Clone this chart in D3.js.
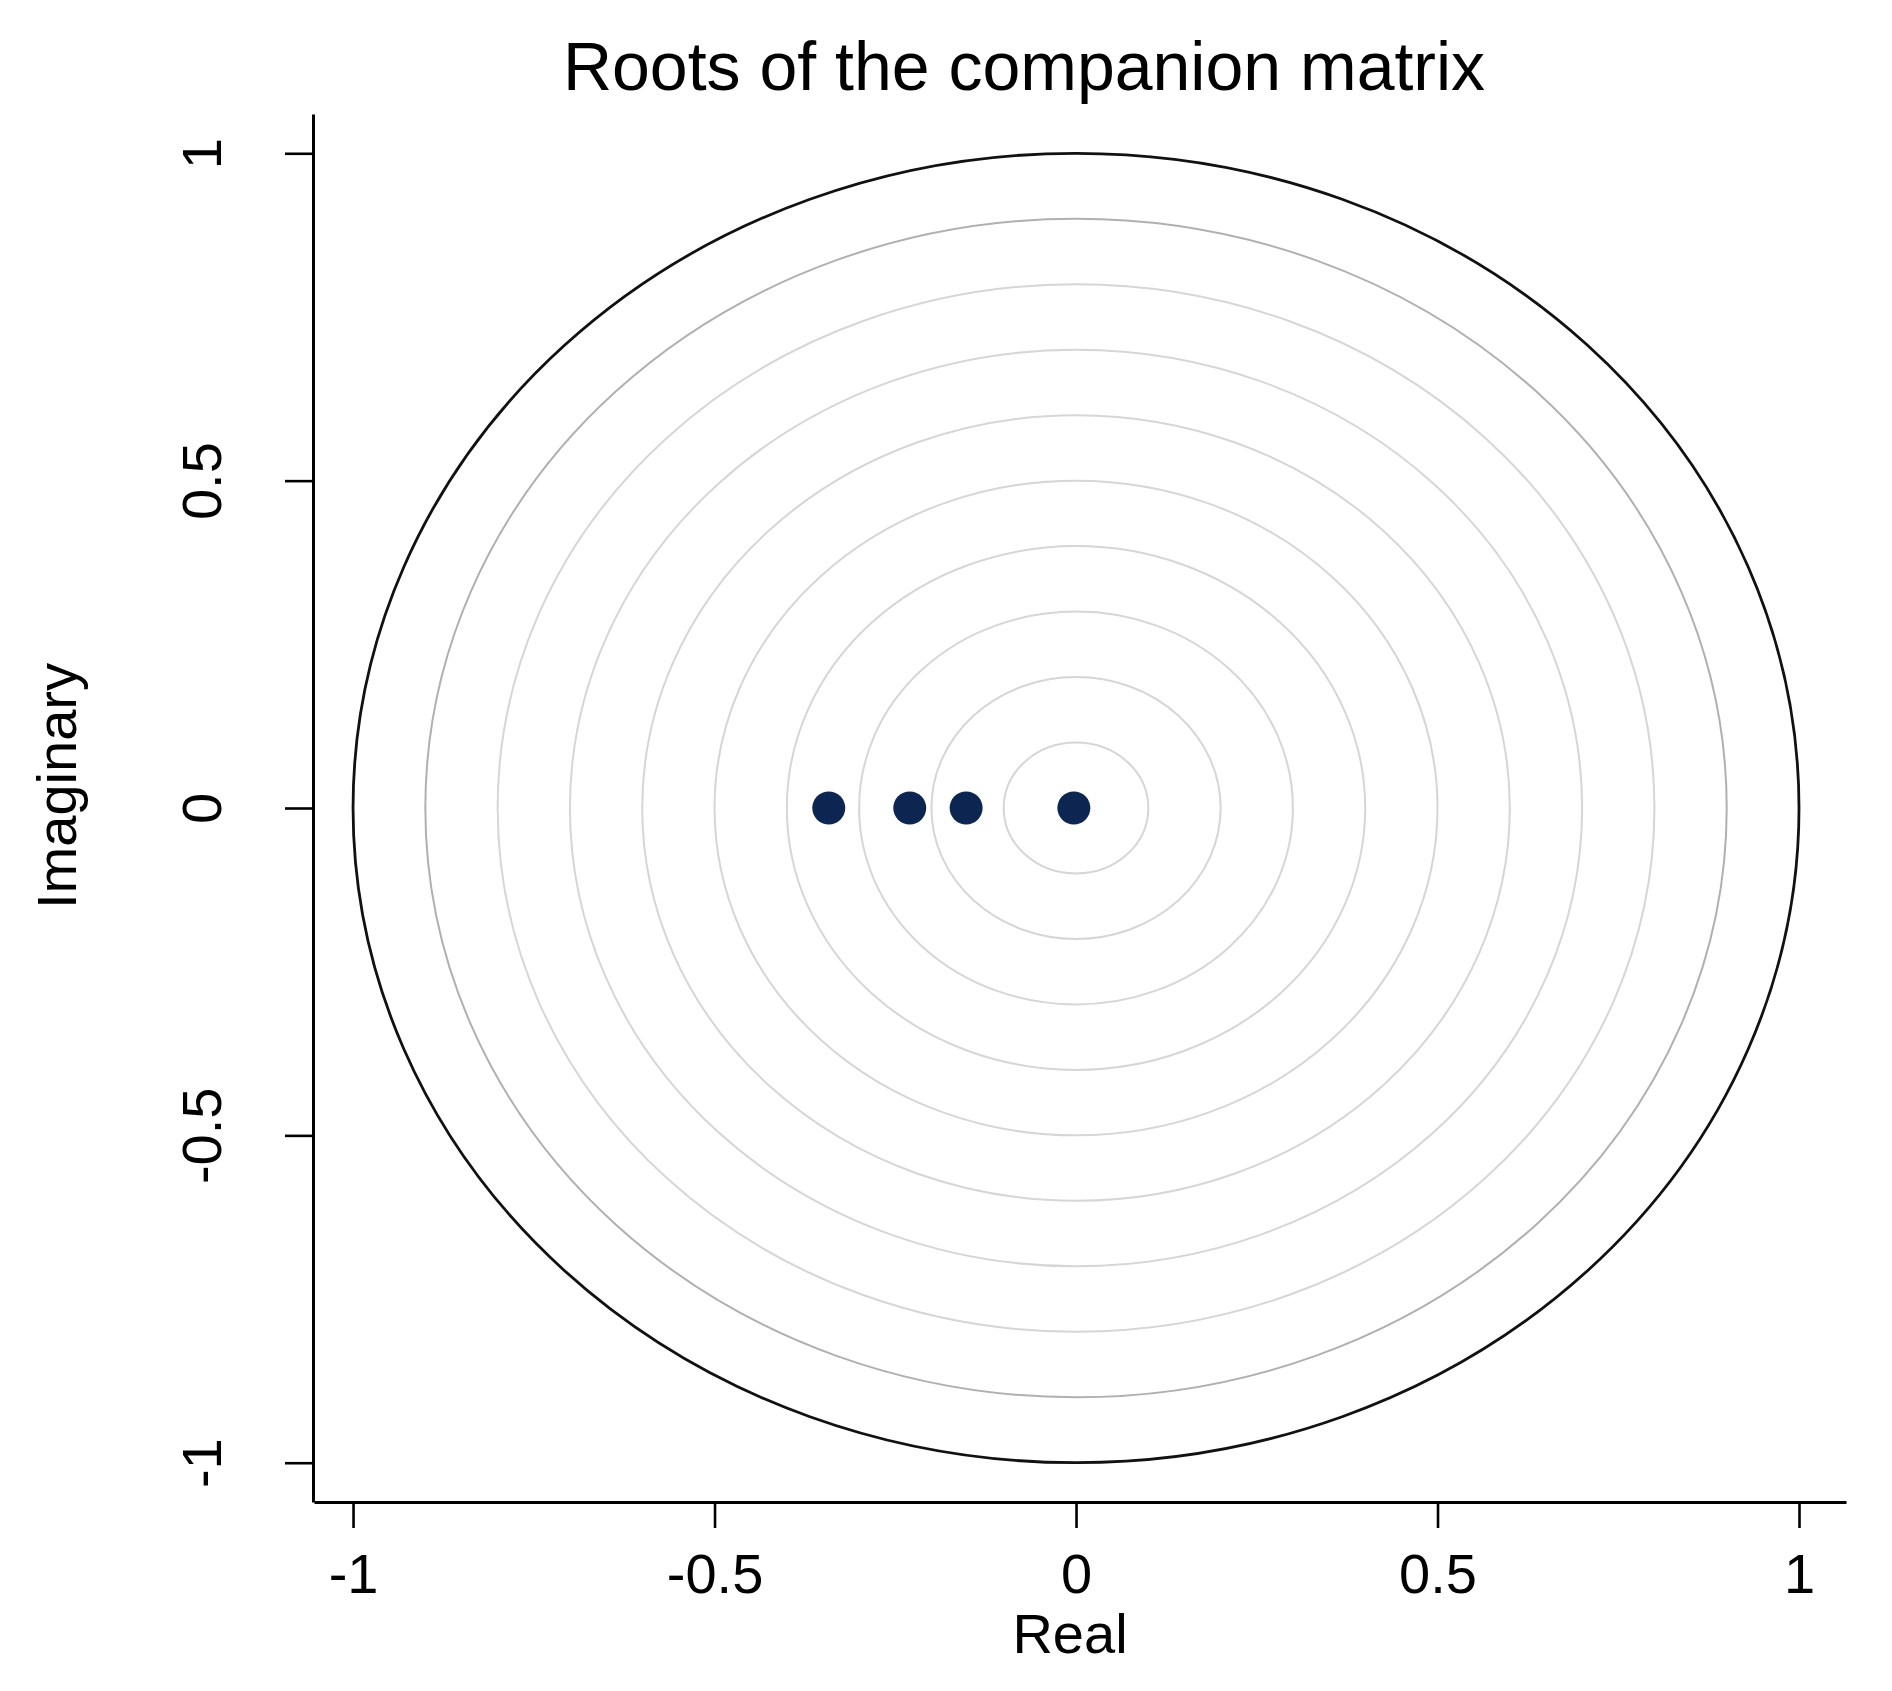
<!DOCTYPE html>
<html>
<head>
<meta charset="utf-8">
<script src="https://cdn.jsdelivr.net/npm/d3@7"></script>
<style>
  body { margin: 0; background: #fff; }
  text { font-family: "Liberation Sans", Arial, sans-serif; fill: #000; }
</style>
</head>
<body>
<script>
// roots of the companion matrix (real, imaginary)
var rootsReal = [-0.342, -0.230, -0.152, -0.003];
var rootsImag = [0, 0, 0, 0];

// reference circles
var gridRadii = [0.1, 0.2, 0.3, 0.4, 0.5, 0.6, 0.7, 0.8, 0.9];
var unitRadius = [1];

var xTicks = [-1, -0.5, 0, 0.5, 1];
var yTicks = [-1, -0.5, 0, 0.5, 1];

function drawRoots() {
  var width = 1892;
  var height = 1691;

  var svg = d3.select("body")
    .append("svg")
    .attr("width", width)
    .attr("height", height);

  var x = d3.scaleLinear().domain([-1.054, 1.065]).range([314, 1846]);
  var y = d3.scaleLinear().domain([-1.06, 1.06]).range([1502, 114]);

  // plain hyphen for negatives, like the original
  var fmt = function (d) { return String(d); };

  // concentric circles
  svg.append("g")
    .selectAll("ellipse")
    .data(gridRadii)
    .enter()
    .append("ellipse")
      .attr("cx", x(0))
      .attr("cy", y(0))
      .attr("rx", function (r) { return x(r) - x(0); })
      .attr("ry", function (r) { return y(0) - y(r); })
      .attr("fill", "none")
      .attr("stroke", function (r) { return r > 0.85 ? "#b0b0b0" : "#d6d6d6"; })
      .attr("stroke-width", 2);

  svg.append("g")
    .selectAll("ellipse")
    .data(unitRadius)
    .enter()
    .append("ellipse")
      .attr("cx", x(0))
      .attr("cy", y(0))
      .attr("rx", function (r) { return x(r) - x(0); })
      .attr("ry", function (r) { return y(0) - y(r); })
      .attr("fill", "none")
      .attr("stroke", "#111")
      .attr("stroke-width", 2.8);

  // axes
  var gx = svg.append("g")
    .attr("transform", "translate(0,1502)")
    .call(d3.axisBottom(x).tickValues(xTicks).tickSize(26).tickSizeOuter(0)
      .tickFormat(fmt));
  gx.select(".domain").attr("stroke-width", 3.2);
  gx.selectAll(".tick line").attr("stroke-width", 2.6);
  gx.selectAll(".tick text")
    .attr("y", 91)
    .attr("dy", 0)
    .style("font-size", "56px")
    .style("font-family", "'Liberation Sans', Arial, sans-serif");

  var gy = svg.append("g")
    .attr("transform", "translate(313,0)")
    .call(d3.axisLeft(y).tickValues(yTicks).tickSize(28).tickSizeOuter(0)
      .tickFormat(fmt));
  gy.select(".domain").attr("stroke-width", 3);
  gy.selectAll(".tick line").attr("stroke-width", 2.6);
  gy.selectAll(".tick text")
    .attr("transform", "rotate(-90)")
    .attr("x", 0)
    .attr("y", -92)
    .attr("dy", 0)
    .attr("text-anchor", "middle")
    .style("font-size", "56px")
    .style("font-family", "'Liberation Sans', Arial, sans-serif");

  // roots
  svg.append("g")
    .selectAll("circle")
    .data(rootsReal)
    .enter()
    .append("circle")
      .attr("cx", function (d) { return x(d); })
      .attr("cy", function (d, i) { return y(rootsImag[i]); })
      .attr("r", 16.5)
      .attr("fill", "#0d2651");

  // titles
  svg.append("text")
    .attr("x", 1024)
    .attr("y", 90)
    .attr("text-anchor", "middle")
    .style("font-size", "68px")
    .text("Roots of the companion matrix");

  svg.append("text")
    .attr("x", 1070)
    .attr("y", 1653)
    .attr("text-anchor", "middle")
    .style("font-size", "56px")
    .text("Real");

  svg.append("text")
    .attr("transform", "translate(76,786) rotate(-90)")
    .attr("text-anchor", "middle")
    .style("font-size", "56px")
    .text("Imaginary");
}

drawRoots();
</script>
</body>
</html>
